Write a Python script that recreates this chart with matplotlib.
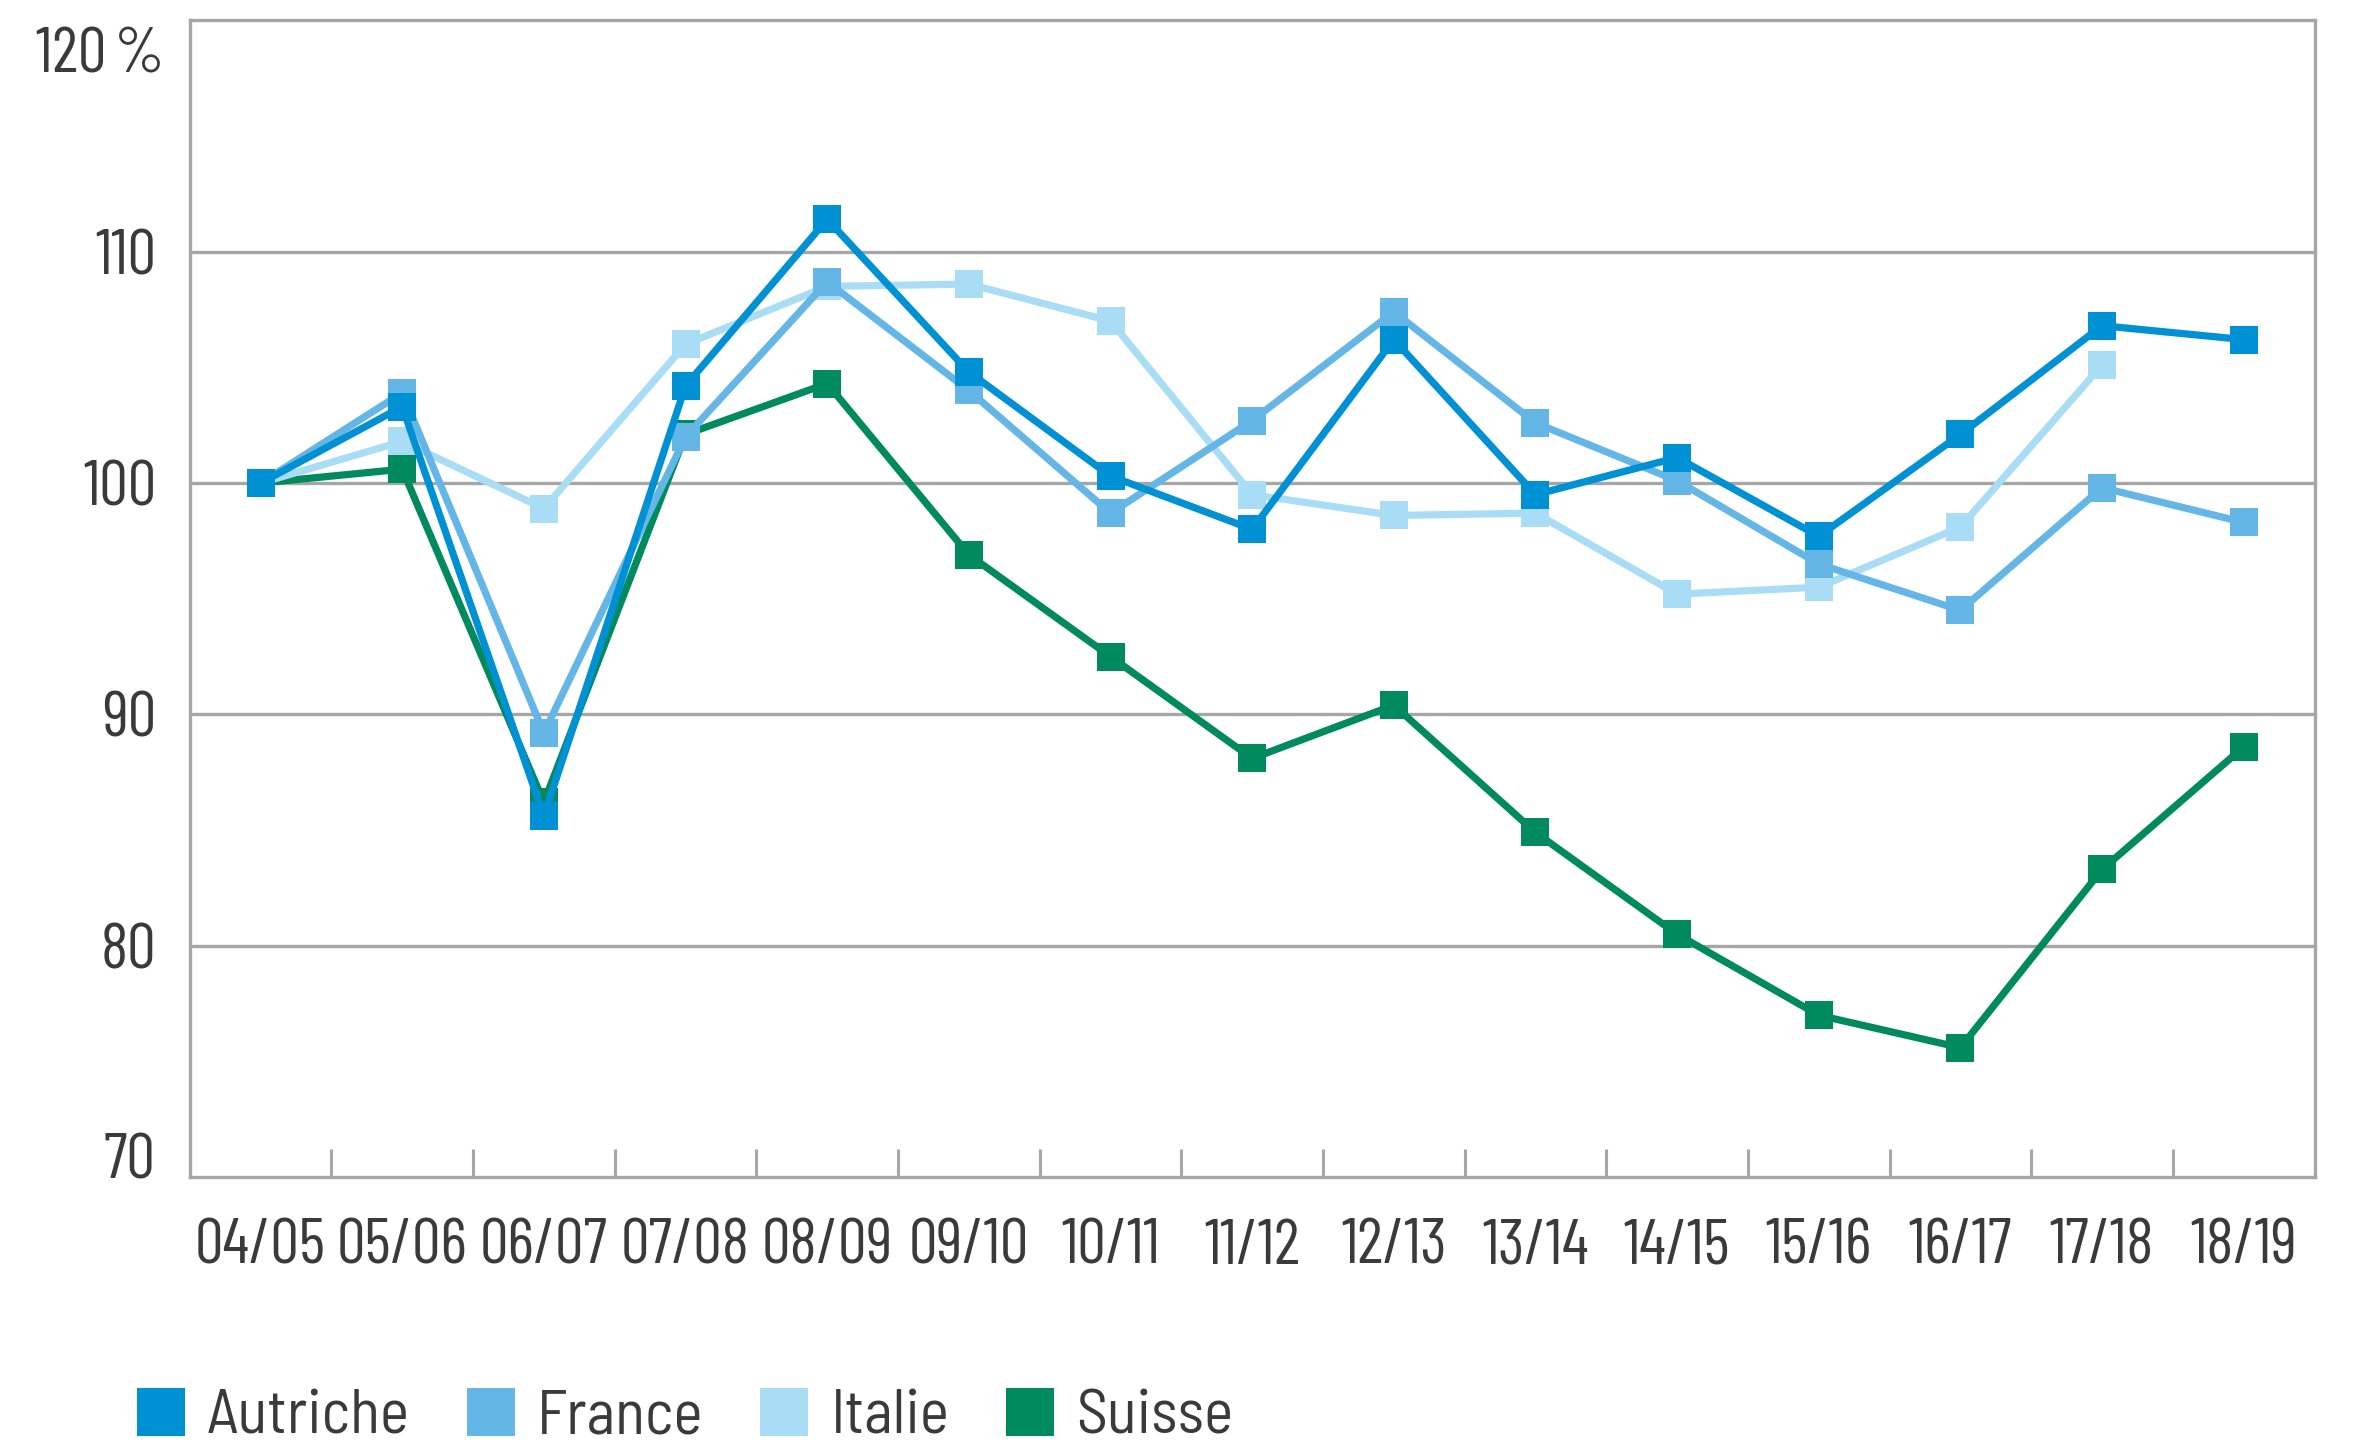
import matplotlib
matplotlib.use("Agg")
import matplotlib.pyplot as plt
from matplotlib.lines import Line2D
from matplotlib.ticker import FixedLocator

FONT = ['Barlow Condensed', 'Archivo Narrow', 'DejaVu Sans']
LEGEND_FONT = ['Barlow Semi Condensed', 'Barlow Condensed', 'DejaVu Sans']
plt.rcParams['font.family'] = FONT

seasons = ["04/05", "05/06", "06/07", "07/08", "08/09", "09/10", "10/11", "11/12",
           "12/13", "13/14", "14/15", "15/16", "16/17", "17/18", "18/19"]

autriche = [100, 103.3, 85.6, 104.2, 111.4, 104.8, 100.3, 98.0, 106.2, 99.5, 101.1, 97.7, 102.1, 106.8, 106.2]
france = [100, 103.9, 89.2, 102.0, 108.7, 104.0, 98.7, 102.7, 107.4, 102.6, 100.1, 96.5, 94.5, 99.8, 98.3]
italie = [100, 101.8, 98.9, 106.0, 108.5, 108.6, 107.0, 99.5, 98.6, 98.7, 95.2, 95.5, 98.1, 105.1]
suisse = [100, 100.6, 86.2, 102.1, 104.3, 96.9, 92.5, 88.1, 90.4, 84.9, 80.5, 77.0, 75.6, 83.3, 88.6]

series_names = ["Autriche", "France", "Italie", "Suisse"]
colors = ["#0091d5", "#63b6e6", "#a9ddf6", "#008a5e"]

grid_c = "#a6a6a6"
text_c = "#3a3a3a"
fs = 23

fig = plt.figure(figsize=(11.785, 7.24), dpi=200)
ax = fig.add_axes([0.0805, 0.187, 0.9015, 0.799])

x = list(range(len(seasons)))
# Suisse at the bottom, Autriche on top
data = {"Autriche": autriche, "France": france, "Italie": italie, "Suisse": suisse}
for name, col in reversed(list(zip(series_names, colors))):
    vals = data[name]
    ax.plot(x[:len(vals)], vals, color=col, lw=2.6, marker="s", ms=10,
            markeredgewidth=0, zorder=3)

ax.set_xlim(-0.5, len(seasons) - 0.5)
ax.set_ylim(70, 120)

ax.set_yticks([80, 90, 100, 110])
ax.set_yticklabels(["80", "90", "100", "110"])
ax.yaxis.grid(True, color=grid_c, lw=1.2)
ax.tick_params(axis="y", length=0, pad=12, labelsize=fs, labelcolor=text_c)
# top and bottom labels sit a little inside the axis range
ax.text(-0.012, 118.45, "120\u2009%", transform=ax.get_yaxis_transform(),
        ha="right", va="center", fontsize=fs, color=text_c)
ax.text(-0.016, 70.65, "70", transform=ax.get_yaxis_transform(),
        ha="right", va="center", fontsize=fs, color=text_c)

ax.set_xticks(x)
ax.set_xticklabels(seasons)
ax.tick_params(axis="x", which="major", length=0, pad=15, labelsize=fs, labelcolor=text_c)
ax.xaxis.set_minor_locator(FixedLocator([i + 0.5 for i in x[:-1]]))
ax.tick_params(axis="x", which="minor", direction="in", length=10, width=1.1, color=grid_c)

for sp in ax.spines.values():
    sp.set_color(grid_c)
    sp.set_linewidth(1.2)

handles = [Line2D([], [], color=c, marker="s", ls="none", ms=17, markeredgewidth=0)
           for c in colors]
leg = fig.legend(handles, series_names, loc="center left", bbox_to_anchor=(0.055, 0.021),
                 ncol=4, frameon=False, prop={"family": LEGEND_FONT, "size": 22.3},
                 handletextpad=0.25, columnspacing=0.8, handlelength=1.0,
                 labelcolor=text_c, borderaxespad=0, borderpad=0)

fig.savefig("out.png", dpi=200, facecolor="white")
